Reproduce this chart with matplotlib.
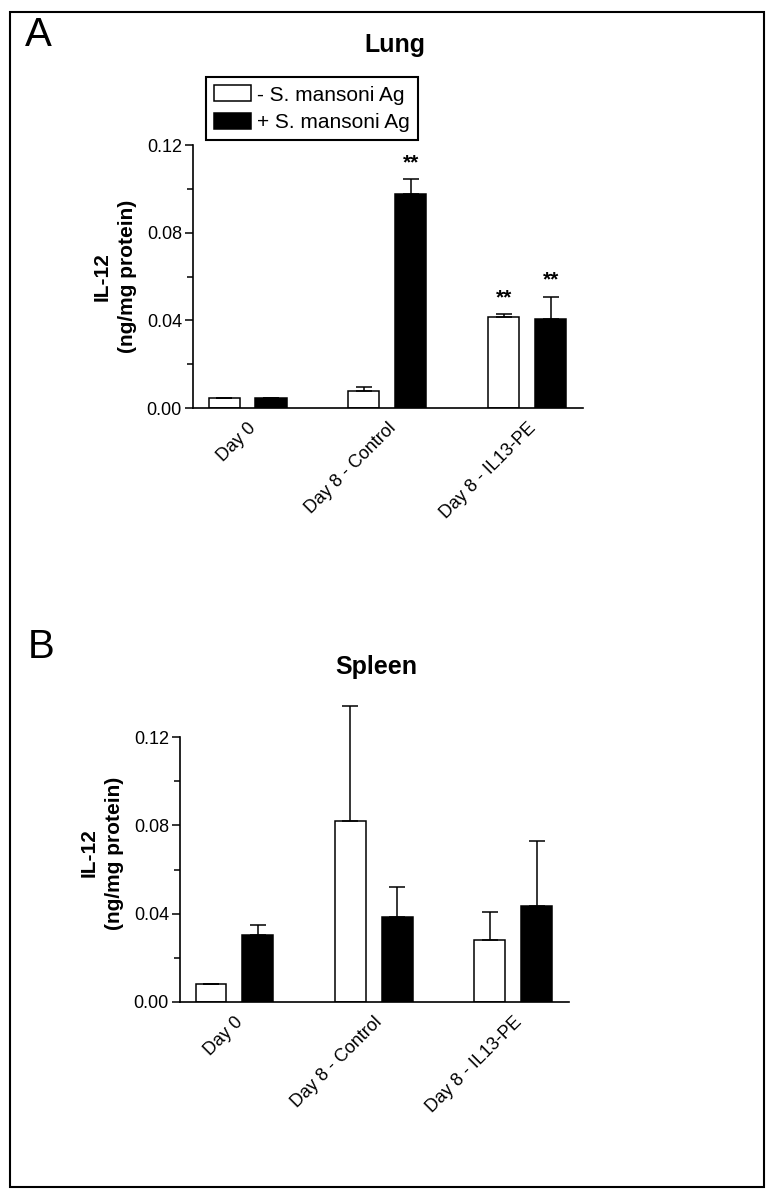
import matplotlib

matplotlib.use("Agg")
import matplotlib.pyplot as plt
import numpy as np
from matplotlib.patches import Patch, Rectangle
from matplotlib.ticker import FixedLocator

plt.rcParams["font.family"] = ["Liberation Sans", "DejaVu Sans"]

GROUPS = ["Day 0", "Day 8 - Control", "Day 8 - IL13-PE"]
SERIES = ["- S. mansoni Ag", "+ S. mansoni Ag"]

lung_minus = [0.0047, 0.0079, 0.0414]
lung_minus_err = [0.0, 0.0015, 0.0015]
lung_plus = [0.0047, 0.0975, 0.0405]
lung_plus_err = [0.0, 0.0069, 0.0103]
# (group index, series index) carrying "**"
lung_stars = [(1, 1), (2, 0), (2, 1)]

spleen_minus = [0.0082, 0.0821, 0.0279]
spleen_minus_err = [0.0, 0.0523, 0.0130]
spleen_plus = [0.0303, 0.0386, 0.0433]
spleen_plus_err = [0.0045, 0.0135, 0.0297]

Y_TICKS = [0.0, 0.04, 0.08, 0.12]
Y_MINOR = [0.02, 0.06, 0.10]

BAR_W = 0.222
OFFSET = 0.168
FACES = ("white", "black")


def draw_panel(ax, minus, minus_err, plus, plus_err, ytop, stars=()):
    x = np.arange(len(GROUPS))
    values = (minus, plus)
    errors = (minus_err, plus_err)
    tops = []
    for k, sign in enumerate((-1, 1)):
        pos = x + sign * OFFSET
        ax.bar(pos, values[k], BAR_W, color=FACES[k], edgecolor="black", linewidth=1.1, zorder=2)
        err = np.asarray(errors[k])
        ax.errorbar(pos, values[k], yerr=[np.zeros_like(err), err], fmt="none",
                    ecolor="black", elinewidth=1.1, capsize=5.8, capthick=1.1, zorder=3)
        tops.append((pos, np.asarray(values[k]) + err))
    for g, s in stars:
        pos, top = tops[s]
        ax.annotate("**", (pos[g], top[g]), xytext=(0, 8), textcoords="offset points",
                    ha="center", va="baseline", fontsize=15, fontweight="bold")

    ax.set_xlim(-0.39, 2.40)
    ax.set_ylim(0, ytop)
    ax.spines[["top", "right"]].set_visible(False)
    ax.spines["left"].set_bounds(0, 0.12)
    for side in ("left", "bottom"):
        ax.spines[side].set_linewidth(1.2)
    ax.set_yticks(Y_TICKS, [f"{v:.2f}" for v in Y_TICKS])
    ax.yaxis.set_minor_locator(FixedLocator(Y_MINOR))
    ax.tick_params(axis="y", which="major", length=6, width=1.1, labelsize=13, pad=2)
    ax.tick_params(axis="y", which="minor", length=4, width=1.1)
    ax.set_xticks(x)
    ax.set_xticklabels(GROUPS, rotation=45, ha="right", va="top", rotation_mode="anchor", fontsize=13)
    ax.tick_params(axis="x", length=0, pad=8.6)
    ax.set_ylabel("IL-12\n(ng/mg protein)", fontsize=15, fontweight="bold", linespacing=1.45, labelpad=7)


fig = plt.figure(figsize=(7.72, 11.99), dpi=100)

ax_a = fig.add_axes([0.2500, 0.6597, 0.5052, 0.2193])
draw_panel(ax_a, lung_minus, lung_minus_err, lung_plus, lung_plus_err, 0.12, lung_stars)

ax_b = fig.add_axes([0.2332, 0.16455, 0.5039, 0.2480])
draw_panel(ax_b, spleen_minus, spleen_minus_err, spleen_plus, spleen_plus_err, 0.135)

handles = [Patch(facecolor=f, edgecolor="black", linewidth=1.1) for f in FACES]
fig.legend(handles, SERIES, loc="upper left", bbox_to_anchor=(206 / 772, 1 - 77 / 1199),
           bbox_transform=fig.transFigure, fontsize=15, frameon=True, fancybox=False,
           edgecolor="black", framealpha=1, borderaxespad=0, borderpad=0.4,
           handlelength=1.75, handleheight=0.8, handletextpad=0.3, labelspacing=0.4)
fig.legends[0].get_frame().set_linewidth(1.5)

fig.text(395 / 772, 1 - 45 / 1199, "Lung", ha="center", va="center", fontsize=18, fontweight="bold")
fig.text(376 / 772, 1 - 667 / 1199, "Spleen", ha="center", va="center", fontsize=18, fontweight="bold")
fig.text(25 / 772, 1 - 46 / 1199, "A", ha="left", va="baseline", fontsize=29)
fig.text(28 / 772, 1 - 658 / 1199, "B", ha="left", va="baseline", fontsize=29)

fig.add_artist(Rectangle((10 / 772, 1 - 1187 / 1199), 754 / 772, 1175 / 1199,
                         transform=fig.transFigure, fill=False, edgecolor="black", linewidth=1.5))

fig.savefig("out.png", dpi=100)
